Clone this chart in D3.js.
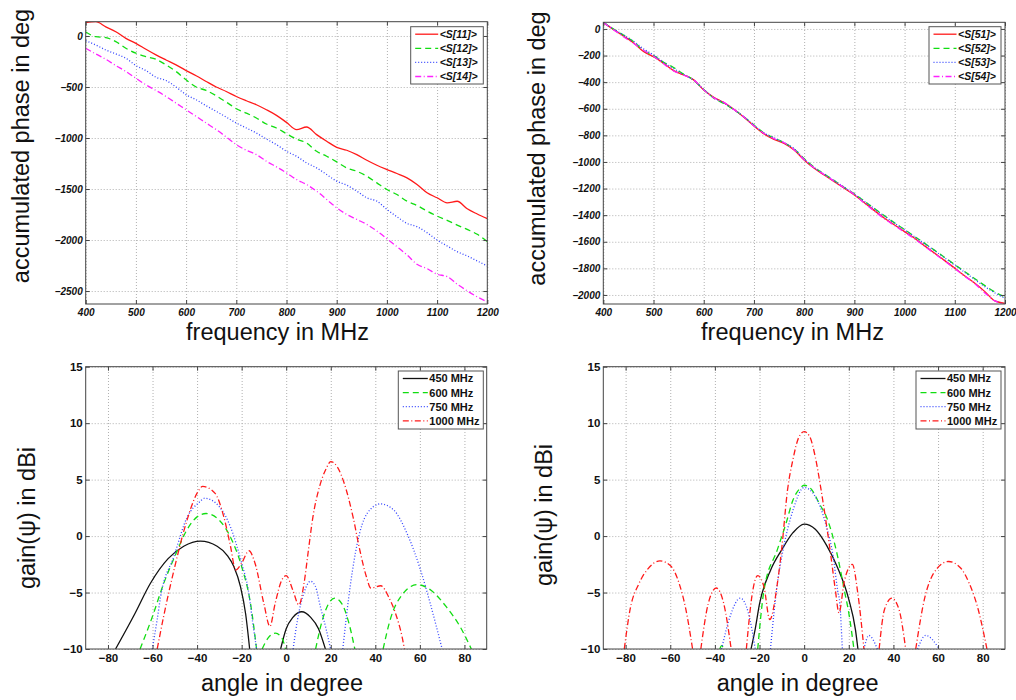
<!DOCTYPE html>
<html>
<head>
<meta charset="utf-8">
<script src="https://cdn.jsdelivr.net/npm/d3@7"></script>
<style>
  body { margin: 0; background: #fff; }
  svg { font-family: "Liberation Sans", Arial, sans-serif; }
  .grid line { stroke: #b0b0b0; stroke-dasharray: 1,2; }
  .grid path { display: none; }
</style>
</head>
<body>
<svg id="fig" width="1016" height="700"></svg>
<script>
// ---- top plots: accumulated phase vs frequency
const freq = d3.range(400, 1201, 20);

const s11 = [130, 140, 90, 42, -23, -72, -130, -185, -235, -283, -339, -390, -446, -500, -544, -593, -635, -674, -723, -778, -847, -918, -892, -967, -1032, -1091, -1120, -1163, -1218, -1267, -1309, -1348, -1391, -1456, -1537, -1586, -1635, -1620, -1694, -1745, -1790];
const s12 = [39, -7, -16, -55, -120, -169, -202, -228, -283, -348, -430, -500, -534, -586, -648, -713, -756, -804, -863, -902, -958, -1010, -1049, -1130, -1179, -1234, -1293, -1326, -1374, -1440, -1505, -1554, -1619, -1661, -1716, -1765, -1808, -1853, -1896, -1944, -2016];
const s13 = [-46, -88, -137, -176, -218, -290, -339, -404, -436, -500, -576, -625, -684, -739, -795, -853, -902, -951, -1010, -1065, -1130, -1179, -1244, -1293, -1358, -1423, -1462, -1521, -1586, -1619, -1700, -1772, -1837, -1869, -1928, -2000, -2058, -2114, -2156, -2205, -2254];
const s14 = [-120, -176, -228, -290, -348, -414, -479, -534, -593, -658, -723, -788, -853, -918, -990, -1065, -1120, -1163, -1228, -1283, -1342, -1407, -1456, -1521, -1602, -1684, -1749, -1798, -1847, -1912, -1987, -2065, -2146, -2238, -2280, -2335, -2358, -2433, -2498, -2557, -2606];

const s51 = [48, -3, -53, -103, -170, -208, -258, -313, -346, -383, -459, -514, -554, -604, -664, -729, -789, -830, -860, -910, -985, -1048, -1098, -1148, -1198, -1248, -1306, -1366, -1423, -1474, -1524, -1574, -1631, -1687, -1742, -1799, -1857, -1912, -1975, -2045, -2063];
const s52 = [50, 0, -45, -95, -160, -200, -250, -290, -340, -385, -455, -520, -560, -608, -660, -722, -782, -820, -855, -902, -975, -1040, -1090, -1140, -1192, -1240, -1295, -1350, -1405, -1458, -1508, -1560, -1612, -1665, -1718, -1772, -1825, -1878, -1930, -1978, -2015];
const s53 = [50, 0, -45, -92, -150, -195, -250, -298, -342, -385, -455, -518, -556, -605, -660, -724, -782, -818, -855, -900, -978, -1042, -1092, -1142, -1190, -1242, -1297, -1352, -1408, -1460, -1510, -1562, -1615, -1668, -1722, -1776, -1830, -1885, -1938, -1985, -2025];
const s54 = [48, -5, -58, -108, -160, -205, -262, -316, -348, -382, -458, -518, -552, -605, -662, -728, -786, -825, -856, -908, -982, -1045, -1095, -1145, -1195, -1245, -1310, -1370, -1428, -1478, -1528, -1578, -1634, -1690, -1745, -1802, -1860, -1915, -1985, -2045, -2068];

// ---- bottom plots: gain vs angle, [angle, dBi], null = gap
const bl450 = [[-76.6,-10],[-68,-6.9],[-61,-4.2],[-53,-2.0],[-46,-0.9],[-38.5,-0.45],[-31,-0.9],[-26.5,-1.7],[-23.5,-2.7],[-20.5,-4.5],[-18.2,-6.9],[-16.4,-10], null,
  [-2.5,-10],[0,-8.2],[3,-7.2],[7,-6.7],[11,-7.2],[14.5,-8.2],[17.6,-10]];
const bl600 = [[-65.6,-10],[-60,-7.1],[-55,-4.2],[-50,-1.8],[-45,0.4],[-40,1.7],[-36,2.0],[-30,1.4],[-25,-0.1],[-20,-2.7],[-16,-6.0],[-13.3,-10], null,
  [-10.8,-10],[-8,-9.0],[-4.8,-8.6],[-2,-9.0],[-0.3,-10], null,
  [13.2,-10],[16,-7.6],[19,-6.0],[21.8,-5.5],[25,-6.0],[28,-7.6],[30.8,-10], null,
  [43.5,-10],[47,-7.2],[52,-5.2],[58.8,-4.3],[65,-4.8],[72,-6.3],[78,-8.0],[83.1,-10]];
const bl750 = [[-60.1,-10],[-58,-7.5],[-56.4,-5.4],[-50.4,-1.8],[-44.4,1.7],[-39,3.0],[-36.6,3.35],[-30,2.6],[-25,0.8],[-20,-2.4],[-17,-4.8],[-15,-7.7],[-13.3,-10], null,
  [3.1,-10],[5,-7.5],[8,-5.0],[10.9,-4.0],[13,-4.4],[15.4,-6.3],[18,-8.3],[19.9,-10], null,
  [25.4,-10],[28.9,-4.2],[31.9,-0.65],[36.3,2.0],[42.3,2.85],[48.3,2.3],[54.3,0.2],[60.3,-3.0],[64.7,-6.0],[70,-10]];
const bl1000 = [[-57.9,-10],[-55,-7.1],[-50,-2.7],[-45,1.1],[-40,3.8],[-37.5,4.4],[-32,3.8],[-28,1.7],[-25,-0.9],[-22.7,-3.0],[-20,-2.4],[-16.7,-1.3],[-14,-2.4],[-10,-6.0],[-7.3,-8.0],[-5,-6.0],[-2,-3.9],[0,-3.5],[3,-4.8],[5.7,-6.1],[8,-4.2],[10,-1.2],[12,1.7],[15,4.4],[18,6.0],[20,6.6],[23,6.1],[26,4.7],[30,1.7],[33,-1.2],[36,-3.6],[38,-4.6],[42.5,-4.4],[46,-5.4],[49,-6.8],[52,-8.9],[53.1,-10]];

const br450 = [[-23.8,-10],[-22,-8.3],[-20,-6.0],[-15,-3.0],[-10,-1.2],[-5,0.3],[0,1.06],[5,0.6],[10,-0.8],[15,-2.8],[20,-5.6],[23,-8.3],[24.1,-10]];
const br600 = [[-37.8,-10],[-37,-9.7],[-36,-10], null,
  [-20.8,-10],[-18,-4.8],[-12,-1.2],[-8,1.2],[-5,3.2],[-2,4.2],[0,4.5],[3,4.2],[7,2.8],[10,1.7],[15,-1.8],[18,-4.8],[20,-6.8],[22.3,-10]];
const br750 = [[-37,-10],[-33,-7.0],[-28.6,-5.5],[-25,-6.8],[-21.9,-10], null,
  [-15.1,-10],[-12,-4.2],[-10,-1.8],[-5,2.3],[0,4.3],[5,3.5],[10,0.83],[13,-1.8],[15,-4.8],[16,-6.0],[17.1,-10], null,
  [26.8,-10],[29,-8.8],[32.8,-10], null,
  [50.8,-10],[54.5,-8.8],[60.5,-10]];
const br1000 = [[-80.6,-10],[-78,-6.5],[-74,-4.2],[-70,-2.9],[-64.6,-2.2],[-60,-2.6],[-56,-4.2],[-53,-6.5],[-50,-10], null,
  [-46.3,-10],[-43,-6.0],[-39.4,-4.6],[-36,-6.0],[-32.7,-10], null,
  [-25.9,-10],[-23,-4.8],[-20.8,-3.5],[-18,-4.5],[-15.4,-7.4],[-12,-4.2],[-10,-1.0],[-7.5,4.0],[-5,6.8],[-2.5,8.7],[0,9.25],[2.5,8.8],[5,7.0],[7.5,4.2],[10,1.0],[12,-1.8],[14,-4.8],[15.6,-6.8],[18,-4.0],[21.6,-2.5],[24,-5.0],[26.8,-10], null,
  [33.6,-10],[36,-6.5],[39.3,-5.5],[42.5,-6.5],[45.5,-10], null,
  [50,-10],[54,-5.5],[58,-3.3],[64.7,-2.25],[70,-2.8],[74,-4.2],[78,-6.5],[81.9,-10]];

const topNamesL = ['<S[11]>', '<S[12]>', '<S[13]>', '<S[14]>'];
const topNamesR = ['<S[51]>', '<S[52]>', '<S[53]>', '<S[54]>'];
const gainNames = ['450 MHz', '600 MHz', '750 MHz', '1000 MHz'];
const phaseTicksL = d3.range(-2500, 1, 500);
const phaseTicksR = d3.range(-2000, 1, 200);
const freqTicks = d3.range(400, 1201, 100);
const angleTicks = d3.range(-80, 81, 20);
const gainTicks = d3.range(-10, 16, 5);

const styles = [
  { color: '#ff1a1a', dash: null },
  { color: '#11dd11', dash: '6,4' },
  { color: '#3344ff', dash: '1,2' },
  { color: '#ff22ff', dash: '6,2.5,1,2.5' }
];
const gainStyles = [
  { color: '#111', dash: null },
  { color: '#11dd11', dash: '6,4' },
  { color: '#3344ff', dash: '1,2' },
  { color: '#ff1a1a', dash: '6,2.5,1,2.5' }
];

const svg = d3.select('#fig');
const fmt = d3.format('d');

function panel(cfg, idx) {
  const x = d3.scaleLinear().domain(cfg.xDom).range([cfg.left, cfg.right]);
  const y = d3.scaleLinear().domain(cfg.yDom).range([cfg.bottom, cfg.top]);
  const w = cfg.right - cfg.left, h = cfg.bottom - cfg.top;
  const g = svg.append('g');

  // grid
  g.append('g').attr('class', 'grid')
    .attr('transform', `translate(0,${cfg.bottom})`)
    .call(d3.axisBottom(x).tickValues(cfg.xTicks).tickSize(-h).tickFormat(''));
  g.append('g').attr('class', 'grid')
    .attr('transform', `translate(${cfg.left},0)`)
    .call(d3.axisLeft(y).tickValues(cfg.yTicks).tickSize(-w).tickFormat(''));

  // lines
  const clipId = 'clip' + idx;
  g.append('clipPath').attr('id', clipId).append('rect')
    .attr('x', cfg.left).attr('y', cfg.top).attr('width', w).attr('height', h);
  const line = d3.line()
    .defined(d => d != null)
    .x(d => x(d[0])).y(d => y(d[1]))
    .curve(d3.curveMonotoneX);
  cfg.series.forEach((s, i) => {
    g.append('path')
      .attr('clip-path', `url(#${clipId})`)
      .attr('d', line(s))
      .attr('fill', 'none')
      .attr('stroke', cfg.styles[i].color)
      .attr('stroke-width', 1.3)
      .attr('stroke-dasharray', cfg.styles[i].dash);
  });

  // axes, matlab style ticks inside
  const font = cfg.italic ? 'italic' : 'normal';
  const xa = g.append('g').attr('transform', `translate(0,${cfg.bottom})`)
    .call(d3.axisBottom(x).tickValues(cfg.xTicks).tickSize(-4).tickPadding(5).tickSizeOuter(0).tickFormat(fmt));
  g.append('g').attr('transform', `translate(${cfg.left},0)`)
    .call(d3.axisRight(y).tickValues(cfg.yTicks).tickSize(4).tickSizeOuter(0).tickFormat(''));
  g.append('g').attr('transform', `translate(${cfg.left},0)`)
    .call(d3.axisLeft(y).tickValues(cfg.yTicks).tickSize(0).tickPadding(3).tickFormat(fmt))
    .call(a => a.select('.domain').remove())
    .selectAll('text').attr('font-size', cfg.tickSize).attr('font-weight', 'bold').attr('font-style', font).attr('fill', '#111');
  g.append('g').attr('transform', `translate(0,${cfg.top})`)
    .call(d3.axisTop(x).tickValues(cfg.xTicks).tickSize(-4).tickFormat('').tickSizeOuter(0));
  g.append('g').attr('transform', `translate(${cfg.right},0)`)
    .call(d3.axisLeft(y).tickValues(cfg.yTicks).tickSize(4).tickFormat('').tickSizeOuter(0));
  xa.selectAll('text').attr('font-size', cfg.tickSize).attr('font-weight', 'bold').attr('font-style', font).attr('fill', '#111');
  g.selectAll('.tick line').attr('stroke', '#444');
  g.selectAll('.grid .tick line').attr('stroke', '#b0b0b0');
  g.selectAll('.domain').attr('stroke', 'none');
  g.append('rect').attr('x', cfg.left).attr('y', cfg.top).attr('width', w).attr('height', h)
    .attr('fill', 'none').attr('stroke', '#444').attr('stroke-width', 1);

  // legend
  const lg = g.append('g').attr('transform', `translate(${cfg.leg.x},${cfg.leg.y})`);
  lg.append('rect').attr('width', cfg.leg.w).attr('height', cfg.leg.h)
    .attr('fill', '#fff').attr('stroke', '#555');
  cfg.names.forEach((n, i) => {
    const yy = 7.5 + i * 14.1;
    lg.append('line').attr('x1', 4.5).attr('x2', 4.5 + cfg.leg.len).attr('y1', yy).attr('y2', yy)
      .attr('stroke', cfg.styles[i].color).attr('stroke-width', 1.3)
      .attr('stroke-dasharray', cfg.styles[i].dash);
    lg.append('text').attr('x', 6 + cfg.leg.len).attr('y', yy).attr('dy', '0.36em')
      .attr('font-size', cfg.leg.fs).attr('font-weight', 'bold').attr('font-style', font)
      .attr('fill', '#111').text(n);
  });

  // axis labels
  g.append('text').attr('x', cfg.xl[0]).attr('y', cfg.xl[1]).attr('text-anchor', 'middle')
    .attr('font-size', 23.5).attr('fill', '#111').text(cfg.xLabel);
  g.append('text').attr('transform', `translate(${cfg.yl[0]},${cfg.yl[1]}) rotate(-90)`)
    .attr('text-anchor', 'middle').attr('font-size', 23.5).attr('fill', '#111').text(cfg.yLabel);
}

const panels = [
  { left: 85.7, right: 487.3, top: 21.7, bottom: 304, xDom: [400, 1200], yDom: [-2627, 140],
    xTicks: freqTicks, yTicks: phaseTicksL, series: [s11, s12, s13, s14].map(v => v.map((d, i) => [freq[i], d])),
    styles: styles, names: topNamesL, italic: true, tickSize: 10,
    leg: { x: 410.7, y: 26.7, w: 72.6, h: 57.3, len: 23, fs: 10.5 },
    xLabel: 'frequency in MHz', yLabel: 'accumulated phase in deg', xl: [277.5, 340], yl: [29, 146] },
  { left: 603.3, right: 1005, top: 22.3, bottom: 304, xDom: [400, 1200], yDom: [-2068, 50],
    xTicks: freqTicks, yTicks: phaseTicksR, series: [s51, s52, s53, s54].map(v => v.map((d, i) => [freq[i], d])),
    styles: styles, names: topNamesR, italic: true, tickSize: 10,
    leg: { x: 929, y: 26.7, w: 72, h: 57.3, len: 23, fs: 10.5 },
    xLabel: 'frequency in MHz', yLabel: 'accumulated phase in deg', xl: [792.5, 340], yl: [545, 148.5] },
  { left: 85.7, right: 486.7, top: 366.7, bottom: 649, xDom: [-90, 90], yDom: [-10, 15],
    xTicks: angleTicks, yTicks: gainTicks, series: [bl450, bl600, bl750, bl1000],
    styles: gainStyles, names: gainNames, italic: false, tickSize: 11.5,
    leg: { x: 398.3, y: 371, w: 85, h: 58, len: 25, fs: 11 },
    xLabel: 'angle in degree', yLabel: 'gain(ψ) in dBi', xl: [282, 691], yl: [35, 518] },
  { left: 603.3, right: 1005, top: 366.7, bottom: 649, xDom: [-90, 90], yDom: [-10, 15],
    xTicks: angleTicks, yTicks: gainTicks, series: [br450, br600, br750, br1000],
    styles: gainStyles, names: gainNames, italic: false, tickSize: 11.5,
    leg: { x: 916, y: 371, w: 85, h: 58, len: 25, fs: 11 },
    xLabel: 'angle in degree', yLabel: 'gain(ψ) in dBi', xl: [797.7, 691], yl: [552, 515] }
];

panels.forEach(panel);
</script>
</body>
</html>
